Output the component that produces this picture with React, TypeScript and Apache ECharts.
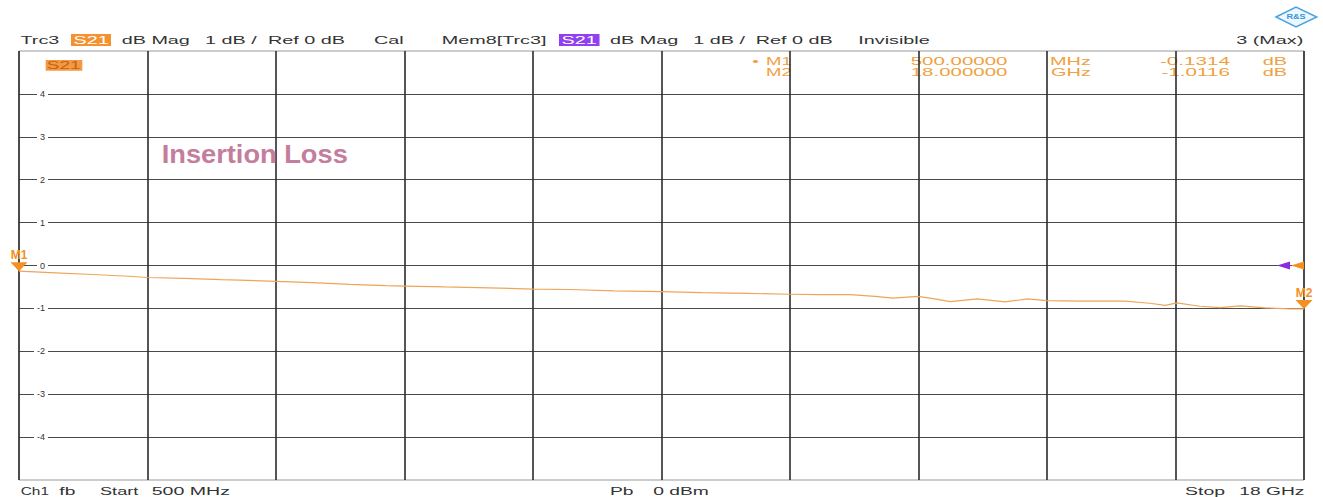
import React, { useEffect, useRef } from "react";
import * as echarts from "echarts";

// Trace S21 (dB) vs frequency (GHz)
const freqGHz = [0.5, 1.0, 1.5, 2.0, 2.25, 2.75, 3.25, 3.5, 4.0, 4.5, 5.0, 5.5, 5.75, 6.3, 6.9, 7.5, 8.0, 8.6, 9.25, 9.8, 10.4, 11.0, 11.4, 11.82, 12.16, 12.4, 12.74, 12.97, 13.18, 13.55, 13.93, 14.23, 14.5, 14.95, 15.36, 15.56, 15.9, 16.11, 16.27, 16.58, 16.86, 17.13, 17.47, 17.81, 18.0];
const s21dB = [-0.131, -0.17, -0.21, -0.25, -0.28, -0.3, -0.33, -0.34, -0.37, -0.4, -0.44, -0.47, -0.48, -0.5, -0.52, -0.55, -0.56, -0.59, -0.61, -0.63, -0.65, -0.67, -0.68, -0.68, -0.72, -0.76, -0.72, -0.78, -0.84, -0.78, -0.85, -0.78, -0.82, -0.83, -0.83, -0.83, -0.88, -0.93, -0.87, -0.95, -0.98, -0.94, -0.99, -1.01, -1.012];

// Markers
const markerNames = ["M1", "M2"];
const markerFreq = [0.5, 18];
const markerVal = [-0.1314, -1.0116];
const markerStim = ["500.00000", "18.000000"];
const markerUnit = ["MHz", "GHz"];

// Axes
const yMin = -5;
const yMax = 5;
const yStep = 1;
const xDivisions = 10;
const refLevel = 0;

const FONT = "'Liberation Sans', Arial, sans-serif";
const ORANGE = "#f5901e";

export default function App() {
  const ref = useRef<HTMLDivElement>(null);
  useEffect(() => {
    const chart = echarts.init(ref.current!, null, { renderer: "svg" });

    const t = (x: number, y: number, text: string, o: any = {}) => ({
      type: "text",
      x,
      y,
      scaleX: o.sx ?? 1.8,
      z: o.z ?? 10,
      style: {
        text,
        fontSize: o.fs ?? 11,
        fontFamily: FONT,
        fontWeight: o.fw ?? "normal",
        fill: o.fill ?? "#333",
        textAlign: o.align ?? "left",
        align: o.align ?? "left",
        textVerticalAlign: "middle",
        verticalAlign: "middle",
      },
    });
    const rect = (x: number, y: number, w: number, h: number, fill: string) => ({
      type: "rect",
      z: 9,
      shape: { x, y, width: w, height: h },
      style: { fill },
    });

    const hy = 40;
    const mk = "#f0a040";
    const rows = [61.5, 72.5];
    const graphics: any[] = [
      t(20.5, hy, "Trc3"),
      rect(71, 34, 40, 12, "#f5922f"),
      t(73.5, hy, "S21", { fill: "#fff" }),
      t(121.7, hy, "dB Mag"),
      t(205, hy, "1 dB /"),
      t(268, hy, "Ref 0 dB"),
      t(374, hy, "Cal"),
      t(441.7, hy, "Mem8[Trc3]"),
      rect(559, 34, 40.5, 12, "#9040f0"),
      t(561.5, hy, "S21", { fill: "#fff" }),
      t(610, hy, "dB Mag"),
      t(693.3, hy, "1 dB /"),
      t(755.7, hy, "Ref 0 dB"),
      t(858.3, hy, "Invisible"),
      t(1303.3, hy, "3 (Max)", { align: "right" }),
      // plot trace label
      rect(45.7, 60, 36.6, 10.7, "#f39a40"),
      t(46.8, 65.5, "S21", { fs: 10, sx: 1.9, fill: "#c45f1a" }),
      // marker table
      t(752, rows[0], "•", { fs: 10.5, sx: 1.9, fill: mk, z: -1 }),
      // Insertion loss title
      t(161.7, 154, "Insertion Loss", { fs: 25, sx: 1.09, fill: "#c47d9c", fw: "bold" }),
      // bottom status
      t(20.7, 491, "Ch1", { sx: 1.4 }),
      t(59.3, 491, "fb", { sx: 1.75 }),
      t(100, 491, "Start", { sx: 1.65 }),
      t(151.7, 491, `${freqGHz[0] * 1000} MHz`, { sx: 1.78 }),
      t(610, 491, "Pb", { sx: 1.75 }),
      t(653.3, 491, "0 dBm", { sx: 1.75 }),
      t(1185, 491, "Stop", { sx: 1.77 }),
      t(1239.3, 491, `${freqGHz[freqGHz.length - 1]} GHz`, { sx: 1.75 }),
      // R&S logo
      {
        type: "polygon",
        z: 10,
        shape: { points: [[1276, 17], [1296, 7], [1316.7, 17], [1296, 27]] },
        style: { fill: "#eef7fd", stroke: "#49a3e0", lineWidth: 1.5 },
      },
      t(1296, 17, "R&S", { fs: 7, sx: 1.3, fill: "#3a95d8", fw: "bold", align: "center" }),
    ];
    markerNames.forEach((n, i) => {
      graphics.push(t(766, rows[i], n, { fs: 10.5, sx: 1.76, fill: mk, z: -1 }));
      graphics.push(t(910.7, rows[i], markerStim[i], { fs: 10.5, sx: 1.95, fill: mk, z: -1 }));
      graphics.push(t(1091, rows[i], markerUnit[i], { fs: 10.5, sx: 1.9, fill: mk, z: -1, align: "right" }));
      graphics.push(t(1230, rows[i], markerVal[i].toFixed(4), { fs: 10.5, sx: 1.97, fill: mk, z: -1, align: "right" }));
      graphics.push(t(1262.7, rows[i], "dB", { fs: 10.5, sx: 1.9, fill: mk, z: -1 }));
    });

    const downTri = "path://M0,0 L2,0 L1,1 Z";
    const leftTri = "path://M0,1 L2,0 L2,2 Z";
    const lastF = freqGHz[freqGHz.length - 1];

    chart.setOption({
      animation: false,
      backgroundColor: "#fff",
      grid: {
        left: 19,
        right: 19,
        top: 51,
        bottom: 17,
        show: true,
        borderColor: "#9a9a9a",
        borderWidth: 1,
        backgroundColor: "transparent",
      },
      xAxis: [
        {
          type: "value",
          min: 0,
          max: xDivisions,
          interval: 1,
          axisLine: { show: false },
          axisTick: { show: false },
          axisLabel: { show: false },
          splitLine: { show: true, lineStyle: { color: "#2b2b2b", width: 1.6 } },
        },
        {
          type: "value",
          min: freqGHz[0],
          max: lastF,
          show: false,
          splitLine: { show: false },
        },
      ],
      yAxis: {
        type: "value",
        min: yMin,
        max: yMax,
        interval: yStep,
        axisLine: { show: false },
        axisTick: { show: false },
        axisLabel: {
          inside: true,
          margin: 29,
          align: "right",
          showMinLabel: false,
          showMaxLabel: false,
          fontSize: 9,
          fontFamily: FONT,
          color: "#333",
          backgroundColor: "#fff",
          padding: [1, 3, 1, 3],
        },
        splitLine: {
          show: true,
          showMinLine: false,
          showMaxLine: false,
          lineStyle: { color: "#4a4a4a", width: 1.2 },
        },
      },
      graphic: graphics,
      series: [
        {
          type: "line",
          xAxisIndex: 1,
          data: freqGHz.map((f, i) => [f, s21dB[i]]),
          showSymbol: false,
          symbol: "none",
          lineStyle: { color: "#eea55a", width: 1.2 },
          z: 5,
          markPoint: {
            symbol: downTri,
            symbolSize: [17, 9],
            symbolOffset: [0, "-50%"],
            itemStyle: { color: ORANGE },
            label: {
              show: true,
              position: "top",
              distance: 1,
              formatter: (p: any) => p.name,
              color: ORANGE,
              fontSize: 12,
              fontWeight: "bold",
              fontFamily: FONT,
            },
            data: [
              ...markerNames.map((n, i) => ({ name: n, coord: [markerFreq[i], markerVal[i]] })),
              {
                name: "refMem",
                coord: [lastF, refLevel],
                symbol: leftTri,
                symbolSize: [13, 8],
                symbolOffset: [-20.5, 0],
                itemStyle: { color: "#8a2be2" },
                label: { show: false },
              },
              {
                name: "refTrc",
                coord: [lastF, refLevel],
                symbol: leftTri,
                symbolSize: [13, 8],
                symbolOffset: [-6.5, 0],
                itemStyle: { color: ORANGE },
                label: { show: false },
              },
            ],
          },
        },
      ],
    });
    return () => chart.dispose();
  }, []);
  return (
    <div
      ref={ref}
      style={{ position: "fixed", left: 0, top: 0, width: 1323, height: 497, background: "#fff" }}
    />
  );
}
